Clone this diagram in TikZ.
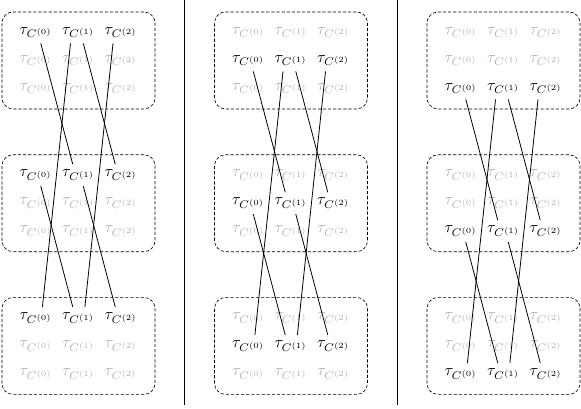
\documentclass[tikz,border=0pt]{standalone}
\usepackage{amsmath,amssymb}
\usepackage{tikz}
\usetikzlibrary{calc}

\begin{document}
\begin{tikzpicture}
	[groupbox/.style={draw,dash pattern=on 2pt off 1.2pt,rounded corners=7pt,minimum width=3.366cm,minimum height=2.134cm,inner sep=0},
	 active/.style={black},
	 idle/.style={black!30},
	 link/.style={line width=0.5pt}]
	\useasboundingbox (0,0) rectangle (12.782,-8.976);
	% separators between the three stages
	\draw (4.059,0) coordinate (S1) -- (4.059,-8.91);
	\draw (8.745,0) coordinate (S2) -- (8.745,-8.91);
	%
	% dashed groups with their labels
	%
	\foreach \p in {0,1,2}
	\foreach \g in {0,1,2} {
		\node[groupbox] (box\p\g) at ({1.727+4.675*\p},{-1.33-3.14*\g}) {};
		\foreach \r in {0,1,2}
		\foreach \c in {0,1,2} {
			\ifnum\r=\p \def\sty{active}\else \def\sty{idle}\fi
			\node[\sty] (t\p\g\r\c) at ($(box\p\g)+({0.935*(\c-1)},{-0.616*(\r-1)})$) {$\tau_{C^{(\c)}}$};
		}
	}
	%
	% connections between the active rows
	%
	\foreach \p in {0,1,2} {
		% short steps to the next group
		\draw[link] ([xshift=3pt]t\p0\p0.south) -- ([xshift=-3.6pt]t\p1\p1.north);
		\draw[link] ([xshift=3pt]t\p0\p1.south) -- ([xshift=-3.6pt]t\p1\p2.north);
		\draw[link] ([xshift=3pt]t\p1\p0.south) -- ([xshift=-3.6pt]t\p2\p1.north);
		\draw[link] ([xshift=3pt]t\p1\p1.south) -- ([xshift=-3.6pt]t\p2\p2.north);
		% long jumps over the middle group
		\draw[link] ([xshift=-5pt]t\p0\p1.south) -- ([xshift=4pt]t\p2\p0.north);
		\draw[link] ([xshift=-5pt]t\p0\p2.south) -- ([xshift=4pt]t\p2\p1.north);
	}
\end{tikzpicture}
\end{document}
